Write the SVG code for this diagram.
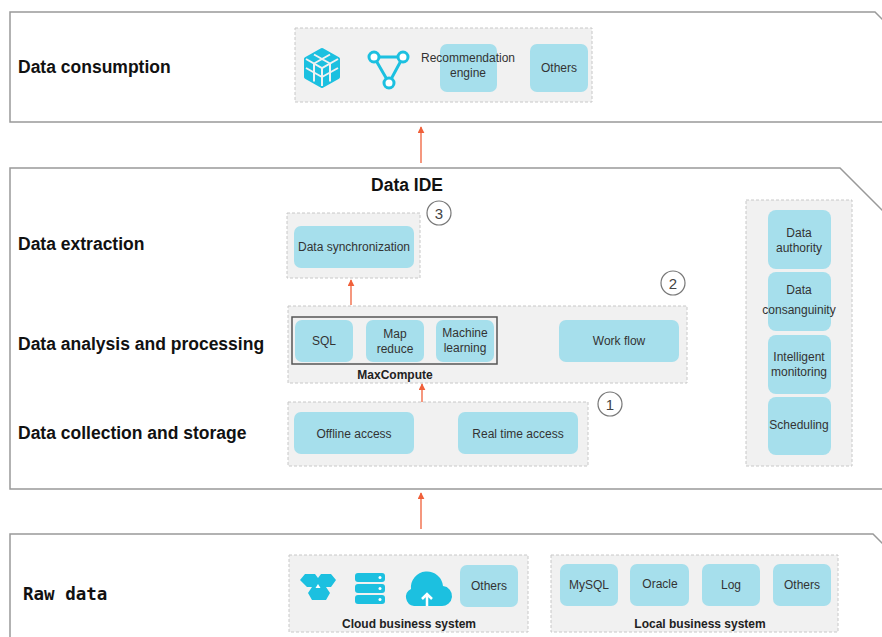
<svg xmlns="http://www.w3.org/2000/svg" width="882" height="637" viewBox="0 0 882 637">
<style>
.frame{fill:#fff;stroke:#999;stroke-width:1.5}
.panel{fill:#f1f1f1;stroke:#c8c8c8;stroke-width:1;stroke-dasharray:3 2}
.box{fill:#a6dfec}
.t{font-family:"Liberation Sans",Arial,sans-serif;font-size:12px;fill:#333;text-anchor:middle}
.h{font-family:"Liberation Sans",Arial,sans-serif;font-size:17.5px;font-weight:bold;fill:#111}
.lb{font-family:"Liberation Sans",Arial,sans-serif;font-size:12px;font-weight:bold;fill:#222;text-anchor:middle}
.num{fill:#fff;stroke:#777;stroke-width:1.2}
.nt{font-family:"Liberation Sans",Arial,sans-serif;font-size:15px;fill:#444;text-anchor:middle}
.ic{fill:#1cc0e0}
.arr{stroke:#f0603a;stroke-width:1.3;fill:none;marker-end:url(#ah)}
</style>
<defs>
<marker id="ah" viewBox="0 0 10 10" refX="9" refY="5" markerWidth="7" markerHeight="7" orient="auto" markerUnits="userSpaceOnUse">
<path d="M0,0 L10,5 L0,10 z" fill="#f0603a"/>
</marker>
</defs>
<rect width="882" height="637" fill="#fff"/>

<g id="layer-consumption">
<path class="frame" d="M10,12 H875 L890,27 V122 H10 Z"/>
<text class="h" x="18" y="73">Data consumption</text>
<rect class="panel" x="295" y="28" width="297" height="74"/>
<g id="icon-cube">
<path d="M322,50 L338,59 V77 L322,86 L306,77 V59 Z" fill="#1cc0e0" stroke="#1cc0e0" stroke-width="4" stroke-linejoin="round"/>
<path d="M306,59 L322,68 L338,59 M322,68 V86 M314,54.5 L330,63.5 M330,54.5 L314,63.5 M314,63.5 V81.5 M306,68 L322,77 M330,63.5 V81.5 M322,77 L338,68" stroke="#f1f1f1" stroke-width="2" fill="none"/>
</g>
<g id="icon-graph" fill="none" stroke="#1cc0e0" stroke-width="3">
<path d="M374,57 H403 L389,83 Z"/>
<circle cx="374" cy="57" r="5" fill="#fff"/>
<circle cx="403" cy="57" r="5" fill="#fff"/>
<circle cx="389" cy="83" r="5" fill="#fff"/>
</g>
<g id="n-recommendation"><rect class="box" x="440" y="44" width="57" height="48" rx="7"/><text class="t" x="468" y="62">Recommendation</text><text class="t" x="468" y="77">engine</text></g>
<g id="n-others-top"><rect class="box" x="530" y="44" width="58" height="48" rx="7"/><text class="t" x="559" y="72">Others</text></g>
</g>

<g id="layer-ide">
<path class="frame" d="M10,168 H840 L890,218 V489 H10 Z"/>
<text class="h" x="407" y="191" text-anchor="middle">Data IDE</text>
<text class="h" x="18" y="250">Data extraction</text>
<text class="h" x="18" y="350">Data analysis and processing</text>
<text class="h" x="18" y="439">Data collection and storage</text>

<rect class="panel" x="287" y="213" width="133" height="65"/>
<g id="n-sync"><rect class="box" x="294" y="226" width="120" height="42" rx="7"/><text class="t" x="354" y="251">Data synchronization</text></g>
<g id="n-c3"><circle class="num" cx="439" cy="213" r="12"/><text class="nt" x="439" y="219">3</text></g>

<rect class="panel" x="288" y="306" width="399" height="77"/>
<rect x="292" y="317" width="205" height="47" fill="none" stroke="#555" stroke-width="1.5"/>
<g id="n-sql"><rect class="box" x="295" y="320" width="58" height="42" rx="7"/><text class="t" x="324" y="345">SQL</text></g>
<g id="n-mapreduce"><rect class="box" x="366" y="320" width="58" height="42" rx="7"/><text class="t" x="395" y="338">Map</text><text class="t" x="395" y="353">reduce</text></g>
<g id="n-ml"><rect class="box" x="436" y="320" width="58" height="42" rx="7"/><text class="t" x="465" y="337">Machine</text><text class="t" x="465" y="352">learning</text></g>
<text class="lb" x="395" y="379">MaxCompute</text>
<g id="n-workflow"><rect class="box" x="559" y="320" width="120" height="42" rx="7"/><text class="t" x="619" y="345">Work flow</text></g>
<g id="n-c2"><circle class="num" cx="673" cy="283" r="12"/><text class="nt" x="673" y="289">2</text></g>

<rect class="panel" x="288" y="402" width="300" height="64"/>
<g id="n-offline"><rect class="box" x="294" y="412" width="120" height="42" rx="7"/><text class="t" x="354" y="438">Offline access</text></g>
<g id="n-realtime"><rect class="box" x="458" y="412" width="120" height="42" rx="7"/><text class="t" x="518" y="438">Real time access</text></g>
<g id="n-c1"><circle class="num" cx="610" cy="404" r="12"/><text class="nt" x="610" y="410">1</text></g>

<rect class="panel" x="746" y="200" width="106" height="266"/>
<g id="n-authority"><rect class="box" x="768" y="210" width="63" height="59" rx="8"/><text class="t" x="799" y="237">Data</text><text class="t" x="799" y="252">authority</text></g>
<g id="n-consanguinity"><rect class="box" x="768" y="272" width="63" height="59" rx="8"/><text class="t" x="799" y="294">Data</text><text class="t" x="799" y="314">consanguinity</text></g>
<g id="n-monitoring"><rect class="box" x="768" y="335" width="63" height="59" rx="8"/><text class="t" x="799" y="361">Intelligent</text><text class="t" x="799" y="376">monitoring</text></g>
<g id="n-scheduling"><rect class="box" x="768" y="397" width="63" height="58" rx="8"/><text class="t" x="799" y="429">Scheduling</text></g>
</g>

<g id="layer-raw">
<path class="frame" d="M10,534 H873 L890,551 V650 H10 Z"/>
<text x="23" y="600" font-family="'DejaVu Sans Mono','Liberation Mono',monospace" font-size="17.5" font-weight="bold" fill="#111">Raw data</text>
<rect class="panel" x="289" y="555" width="239" height="77"/>
<g id="icon-hex" class="ic">
<path d="M300,580 l5,-6 h10 l3,4 3,-4 h10 l5,6 -5,7 -5,0 4,6 -4,7 h-14 l-4,-7 4,-6 -5,0z"/>
<path d="M318,584 l2.5,4 h-5z" fill="#fff"/>
</g>
<g id="icon-server" class="ic">
<rect x="355" y="573" width="30" height="9" rx="3"/>
<rect x="355" y="584" width="30" height="9" rx="3"/>
<rect x="355" y="595" width="30" height="9" rx="3"/>
<circle cx="380" cy="577.5" r="1.5" fill="#fff"/><circle cx="380" cy="588.5" r="1.5" fill="#fff"/><circle cx="380" cy="599.5" r="1.5" fill="#fff"/>
</g>
<g id="icon-cloud">
<path class="ic" d="M414,606 a9,9 0 0 1 -3,-17 a16,16 0 0 1 32,-3 a10,10 0 0 1 -2,20 z"/>
<path d="M427,606 v-10 M422,599 l5,-5 5,5" stroke="#fff" stroke-width="2.5" fill="none"/>
</g>
<g id="n-others-cloud"><rect class="box" x="460" y="565" width="58" height="42" rx="7"/><text class="t" x="489" y="590">Others</text></g>
<text class="lb" x="409" y="628">Cloud business system</text>

<rect class="panel" x="551" y="555" width="287" height="77"/>
<g id="n-mysql"><rect class="box" x="560" y="564" width="58" height="42" rx="7"/><text class="t" x="589" y="589">MySQL</text></g>
<g id="n-oracle"><rect class="box" x="630" y="564" width="59" height="42" rx="7"/><text class="t" x="660" y="588">Oracle</text></g>
<g id="n-log"><rect class="box" x="702" y="564" width="58" height="42" rx="7"/><text class="t" x="731" y="589">Log</text></g>
<g id="n-others-local"><rect class="box" x="773" y="564" width="58" height="42" rx="7"/><text class="t" x="802" y="589">Others</text></g>
<text class="lb" x="700" y="628">Local business system</text>
</g>

<g id="connectors">
<line class="arr" x1="421" y1="163" x2="421" y2="127"/>
<line class="arr" x1="421" y1="529" x2="421" y2="493"/>
<line class="arr" x1="351" y1="305" x2="351" y2="280"/>
<line class="arr" x1="422" y1="402" x2="422" y2="384"/>
</g>
</svg>
